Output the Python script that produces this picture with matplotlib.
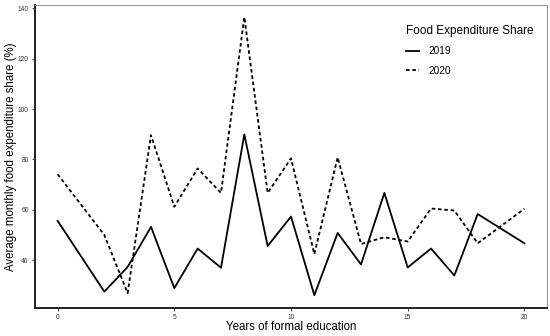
import matplotlib
matplotlib.use("Agg")
import matplotlib.pyplot as plt

# data
years = [0, 2, 3, 4, 5, 6, 7, 8, 9, 10, 11, 12, 13, 14, 15, 16, 17, 18, 20]
share_2019 = [55.6, 27.5, 37.3, 53.2, 28.9, 44.6, 37.0, 89.9, 45.6, 57.3, 26.1,
              50.8, 38.3, 66.7, 37.1, 44.6, 33.9, 58.3, 46.7]
share_2020 = [74.1, 50.0, 26.9, 89.6, 61.2, 76.4, 66.7, 136.5, 66.7, 80.4, 42.4,
              80.8, 46.4, 49.1, 47.4, 60.5, 59.7, 46.7, 60.4]
x_ticks = [0, 5, 10, 15, 20]
y_ticks = [40, 60, 80, 100, 120, 140]

plt.rcParams["font.family"] = ["Liberation Sans", "DejaVu Sans"]

fig = plt.figure(figsize=(5.5, 3.36), dpi=100)
ax = fig.add_axes([35 / 550, 1 - 308 / 336, 512 / 550, 303 / 336])

ax.plot(years, share_2019, color="black", lw=1.3, ls="-", label="2019")
ax.plot(years, share_2020, color="black", lw=1.3, ls=(0, (2, 1.5)), label="2020")

ax.set_xlim(-0.97, 20.97)
ax.set_ylim(21, 141.3)
ax.set_xticks(x_ticks)
ax.set_yticks(y_ticks)
ax.tick_params(labelsize=4.8, colors="#333333", length=2.5, width=0.6, pad=2)

for side in ["left", "bottom"]:
    ax.spines[side].set_linewidth(1.4)
    ax.spines[side].set_color("#222222")
for side in ["top", "right"]:
    ax.spines[side].set_linewidth(0.8)
    ax.spines[side].set_color("#999999")

ax.set_xlabel("Years of formal education", fontsize=8.3)
ax.set_ylabel("Average monthly food expenditure share (%)", fontsize=8.3)
ax.xaxis.set_label_coords(0.5, -13 / 303, transform=ax.transAxes)
ax.yaxis.set_label_coords(-18 / 512, 0.5, transform=ax.transAxes)

leg = ax.legend(title="Food Expenditure Share", loc="upper left", frameon=False,
                fontsize=7.3, title_fontsize=8.5, handlelength=1.3,
                bbox_to_anchor=(362 / 512, 0.965), labelspacing=0.95,
                handletextpad=0.9)
leg._legend_box.align = "left"

fig.savefig("out.png", dpi=100)
